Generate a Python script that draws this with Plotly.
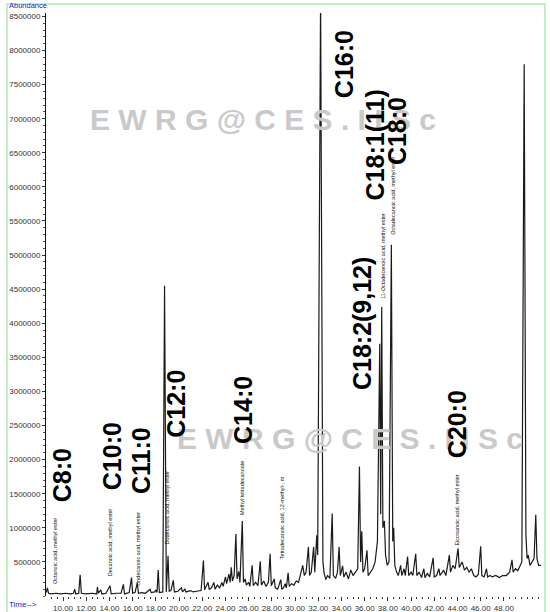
import plotly.graph_objects as go

# ---- chromatogram trace (retention time in min, abundance) ----
time_min = [
    8.55, 8.65, 8.75, 9.0, 9.4, 9.8, 10.2, 10.6, 10.9, 11.0, 11.1, 11.35, 11.47, 11.58,
    12.0, 12.5, 12.9, 12.96, 13.05, 13.25, 13.35, 13.7, 14.05, 14.15, 14.6, 15.0, 15.2,
    15.3, 15.7, 15.9, 16.0, 16.2, 16.4, 16.5, 16.8, 17.1, 17.5, 17.6, 17.9, 18.0, 18.1,
    18.2, 18.3, 18.6, 18.75, 18.9, 19.05, 19.15, 19.3, 19.5, 19.6, 19.9, 20.2, 20.3,
    20.5, 20.6, 21.0, 21.2, 21.5, 21.9, 22.1, 22.2, 22.5, 22.6, 22.8, 23.0, 23.1, 23.3,
    23.5, 23.7, 23.8, 24.0, 24.1, 24.3, 24.4, 24.5, 24.6, 24.75, 24.9, 25.0, 25.15,
    25.25, 25.45, 25.55, 25.7, 25.8, 26.0, 26.1, 26.3, 26.4, 26.6, 26.8, 27.0, 27.1,
    27.3, 27.5, 27.7, 27.85, 27.95, 28.2, 28.3, 28.5, 28.77, 28.85, 29.0, 29.15, 29.25,
    29.4, 29.5, 29.7, 29.9, 30.1, 30.3, 30.5, 30.66, 30.8, 30.95, 31.15, 31.25, 31.4,
    31.6, 31.7, 31.87, 31.95, 32.2, 32.4, 32.5, 32.65, 32.8, 33.0, 33.2, 33.3, 33.5,
    33.65, 33.8, 33.9, 34.1, 34.2, 34.4, 34.6, 34.8, 35.0, 35.2, 35.4, 35.55, 35.65,
    35.75, 35.85, 36.0, 36.2, 36.3, 36.5, 36.7, 36.9, 37.1, 37.3, 37.38, 37.47, 37.57,
    37.7, 37.8, 37.95, 38.1, 38.3, 38.42, 38.5, 38.6, 38.75, 38.9, 39.1, 39.2, 39.4,
    39.5, 39.7, 39.8, 40.0, 40.15, 40.4, 40.5, 40.7, 40.9, 41.1, 41.2, 41.4, 41.6, 41.9,
    42.0, 42.2, 42.4, 42.5, 42.8, 43.0, 43.3, 43.4, 43.6, 43.8, 44.05, 44.15, 44.4,
    44.6, 44.8, 45.0, 45.2, 45.4, 45.6, 45.8, 46.0, 46.1, 46.3, 46.5, 46.6, 46.8, 47.0,
    47.3, 47.6, 47.9, 48.2, 48.5, 48.7, 48.8, 49.0, 49.2, 49.4, 49.55, 49.75, 49.9,
    50.0, 50.1, 50.25, 50.4, 50.6, 50.75, 50.85, 51.0, 51.2,
]
abundance = [
    50000, 120000, 40000, 30000, 40000, 30000, 40000, 30000, 40000, 100000, 30000, 40000, 310000, 40000,
    30000, 40000, 30000, 130000, 40000, 90000, 30000, 40000, 150000, 30000, 40000, 40000, 170000,
    30000, 50000, 270000, 40000, 50000, 190000, 40000, 50000, 40000, 100000, 50000, 60000, 90000, 50000,
    380000, 50000, 60000, 4550000, 60000, 590000, 70000, 80000, 230000, 60000, 70000, 120000, 60000,
    100000, 60000, 80000, 60000, 70000, 80000, 520000, 90000, 200000, 100000, 120000, 200000, 100000, 160000,
    120000, 200000, 140000, 280000, 180000, 320000, 200000, 420000, 220000, 300000, 910000, 250000, 360000,
    200000, 1100000, 200000, 250000, 160000, 200000, 140000, 450000, 150000, 200000, 150000, 510000, 160000,
    220000, 140000, 200000, 620000, 150000, 250000, 120000, 100000, 240000, 100000, 120000, 180000, 120000,
    340000, 140000, 180000, 160000, 220000, 200000, 320000, 450000, 300000, 350000, 720000, 300000, 350000,
    720000, 350000, 890000, 600000, 8800000, 500000, 340000, 240000, 300000, 260000, 1210000, 300000, 260000,
    350000, 720000, 300000, 440000, 280000, 350000, 250000, 380000, 300000, 350000, 400000, 1900000, 500000,
    950000, 350000, 400000, 670000, 300000, 350000, 400000, 500000, 800000, 3700000, 1200000, 4240000, 1000000,
    1100000, 600000, 450000, 500000, 5150000, 800000, 1000000, 450000, 350000, 300000, 450000, 300000, 400000,
    300000, 580000, 300000, 350000, 300000, 620000, 300000, 350000, 270000, 400000, 270000, 330000, 280000, 560000,
    280000, 300000, 400000, 300000, 380000, 300000, 600000, 350000, 450000, 400000, 700000, 420000, 500000,
    380000, 420000, 350000, 400000, 300000, 280000, 320000, 730000, 300000, 280000, 400000, 280000, 300000, 280000,
    300000, 270000, 300000, 300000, 350000, 530000, 350000, 400000, 370000, 450000, 500000, 7800000, 900000,
    550000, 600000, 450000, 500000, 550000, 1190000, 550000, 450000, 450000,
]

# ---- big compound labels ----
fa_labels = ["C8:0", "C10:0", "C11:0", "C12:0", "C14:0", "C16:0", "C18:2(9,12)", "C18:1(11)", "C18:0", "C20:0"]
fa_label_time = [9.91, 14.22, 16.72, 19.74, 25.52, 34.22, 35.78, 36.9, 38.8, 43.97]
fa_label_abund = [1770000, 2050000, 1980000, 2820000, 2730000, 7800000, 3990000, 6610000, 6820000, 2520000]

# ---- small library-hit labels ----
hit_labels = [
    "Octanoic acid, methyl ester",
    "Decanoic acid, methyl ester",
    "Undecanoic acid, methyl ester",
    "Dodecanoic acid, methyl ester",
    "Methyl tetradecanoate",
    "Tetradecanoic acid, 12-methyl-, m",
    "11-Octadecenoic acid, methyl ester",
    "Octadecanoic acid, methyl ester",
    "Eicosanoic acid, methyl ester",
]
hit_time = [9.31, 14.05, 16.44, 18.97, 25.41, 28.85, 37.59, 38.45, 44.0]
hit_abund = [660000, 790000, 690000, 1300000, 1580000, 1150000, 4990000, 5870000, 1260000]

y_ticks = list(range(500000, 8500001, 500000))
x_ticks = list(range(10, 49, 2))

FONT = "Arial, Liberation Sans, sans-serif"

fig = go.Figure()
fig.add_trace(go.Scatter(
    x=time_min, y=abundance, mode="lines",
    line=dict(color="#1a1a1a", width=1.2),
    hoverinfo="skip", showlegend=False,
))

annotations = []
# watermark
for wx, wy in [(0.438, 0.818), (0.615, 0.27)]:
    annotations.append(dict(
        text="<b>E W R G @ C E S . I I S c</b>", xref="paper", yref="paper",
        x=wx, y=wy, showarrow=False, xanchor="center", yanchor="middle",
        font=dict(family=FONT, size=30, color="#c9c9c9"),
    ))
for t, a, s in zip(hit_time, hit_abund, hit_labels):
    annotations.append(dict(
        text=s, x=t, y=a, xref="x", yref="y", showarrow=False, textangle=-90,
        xanchor="center", yanchor="middle",
        font=dict(family=FONT, size=5.5, color="#111111"),
    ))
for t, a, s in zip(fa_label_time, fa_label_abund, fa_labels):
    annotations.append(dict(
        text="<b>" + s + "</b>", x=t, y=a, xref="x", yref="y", showarrow=False, textangle=-90,
        xanchor="center", yanchor="middle",
        font=dict(family=FONT, size=25, color="#000000"),
    ))
annotations.append(dict(text="Abundance", xref="paper", yref="paper", x=-0.079, y=1.0125,
                        xanchor="left", yanchor="middle", showarrow=False,
                        font=dict(family=FONT, size=7.5, color="#1a1acc")))
annotations.append(dict(text="Time-->", xref="paper", yref="paper", x=-0.079, y=-0.014,
                        xanchor="left", yanchor="middle", showarrow=False,
                        font=dict(family=FONT, size=8, color="#1a1acc")))

fig.update_layout(
    width=550, height=612,
    margin=dict(l=46, r=9, t=13, b=16, autoexpand=False),
    paper_bgcolor="white", plot_bgcolor="white",
    annotations=annotations,
    shapes=[dict(type="rect", xref="paper", yref="paper",
                 x0=-0.0788, x1=1.008, y0=-0.03, y1=1.0155,
                 line=dict(color="#aeeaae", width=1.5), layer="above")],
)
fig.update_xaxes(
    range=[8.53, 51.2], showgrid=False, zeroline=False, showline=False, automargin=False,
    tickvals=x_ticks, ticktext=[f"{v:.2f}" for v in x_ticks],
    ticks="outside", ticklen=4, tickcolor="#333", tickwidth=1,
    minor=dict(ticks="outside", ticklen=2, dtick=0.5, tickcolor="#333"),
    tickfont=dict(family=FONT, size=8, color="#333"),
)
fig.update_yaxes(
    range=[0, 8550000], showgrid=False, zeroline=False, automargin=False,
    showline=True, linecolor="#111", linewidth=1,
    tickvals=y_ticks, ticktext=[str(v) for v in y_ticks],
    ticks="outside", ticklen=3, tickcolor="#333",
    minor=dict(ticks="outside", ticklen=2, dtick=100000, tickcolor="#555"),
    tickfont=dict(family=FONT, size=8, color="#333"),
)

fig.write_html("out.html", config={"displayModeBar": False},
               post_script="document.body.style.margin='0';")
